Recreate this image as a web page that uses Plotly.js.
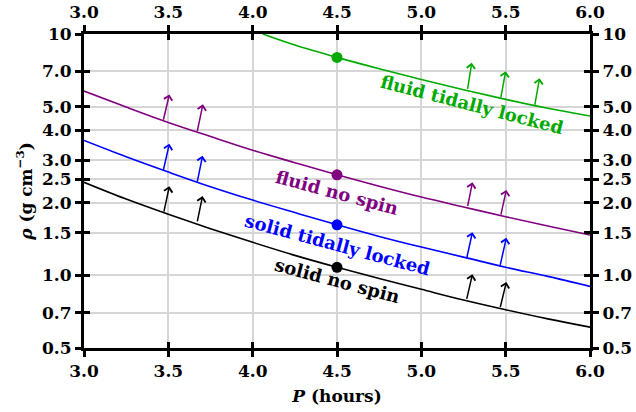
<!DOCTYPE html>
<html>
<head>
<meta charset="utf-8">
<script src="https://cdn.plot.ly/plotly-3.0.1.min.js"></script>
<style>html,body{margin:0;padding:0;background:#fff;}#chart{width:636px;height:412px;}</style>
</head>
<body>
<div id="chart"></div>
<script>
// Period grid (hours)
var P = [3.0, 3.25, 3.5, 3.75, 4.0, 4.25, 4.5, 4.75, 5.0, 5.25, 5.5, 5.75, 6.0];
var P_green = [4.06, 4.25, 4.5, 4.75, 5.0, 5.25, 5.5, 5.75, 6.0];
// Density curves (g cm^-3)
var rho_solid_nospin  = [2.43, 2.07, 1.79, 1.56, 1.37, 1.21, 1.08, 0.97, 0.875, 0.79, 0.72, 0.66, 0.61];
var rho_solid_locked  = [3.62, 3.10, 2.68, 2.33, 2.05, 1.82, 1.62, 1.45, 1.31, 1.19, 1.08, 0.99, 0.90];
var rho_fluid_nospin  = [5.80, 4.98, 4.30, 3.76, 3.30, 2.93, 2.61, 2.34, 2.11, 1.92, 1.75, 1.60, 1.47];
var rho_fluid_locked  = [10.0, 9.0, 8.0, 7.18, 6.48, 5.88, 5.36, 4.92, 4.57];
// Marked points at P = 4.5
var dotP = [4.5, 4.5, 4.5, 4.5];
var dotRho = [1.08, 1.62, 2.61, 8.0];
// Arrows: base (on curve) and tip
var arrowBaseP   = [3.472, 3.670, 5.267, 5.466,  3.469, 3.670, 5.267, 5.466,  3.469, 3.670, 5.273, 5.470,  5.273, 5.470, 5.671];
var arrowBaseRho = [1.81, 1.65, 0.788, 0.728,  2.70, 2.41, 1.16, 1.09,  4.35, 3.90, 1.91, 1.76,  5.84, 5.39, 5.01];
var arrowTipP    = [3.506, 3.703, 5.303, 5.504,  3.506, 3.703, 5.303, 5.504,  3.506, 3.705, 5.303, 5.504,  5.299, 5.500, 5.701];
var arrowTipRho  = [2.34, 2.13, 1.01, 0.938,  3.51, 3.13, 1.51, 1.43,  5.62, 5.11, 2.43, 2.26,  7.60, 7.01, 6.56];
var arrowSeries  = [0,0,0,0, 1,1,1,1, 2,2,2,2, 3,3,3];
// Labels
var seriesNames  = ["solid no spin", "solid tidally locked", "fluid no spin", "fluid tidally locked"];
var colors = ["#000000", "#0000ff", "#800080", "#00aa00"];
var labelP   = [4.50, 4.50, 4.50, 5.30];
var labelRho = [0.955, 1.34, 2.20, 5.10];
var labelAngle = [15, 15, 15, 14.5];
// Ticks
var xTicks = [3.0, 3.5, 4.0, 4.5, 5.0, 5.5, 6.0];
var xTickText = ["3.0", "3.5", "4.0", "4.5", "5.0", "5.5", "6.0"];
var yTicks = [0.5, 0.7, 1.0, 1.5, 2.0, 2.5, 3.0, 4.0, 5.0, 7.0, 10];
var yTickText = ["0.5", "0.7", "1.0", "1.5", "2.0", "2.5", "3.0", "4.0", "5.0", "7.0", "10"];

var FONT = "DejaVu Serif";
var curves = [
  [P, rho_solid_nospin],
  [P, rho_solid_locked],
  [P, rho_fluid_nospin],
  [P_green, rho_fluid_locked]
];
var data = [];
curves.forEach(function (c, i) {
  data.push({x: c[0], y: c[1], mode: "lines", type: "scatter", line: {color: colors[i], width: 1.6, shape: "spline"}, hoverinfo: "skip", showlegend: false});
});
data.push({x: dotP, y: dotRho, mode: "markers", type: "scatter", marker: {color: colors, size: 11}, hoverinfo: "skip", showlegend: false});
// dummy traces for overlay axes
data.push({x: [4.5], y: [1], xaxis: "x2", yaxis: "y2", mode: "markers", marker: {opacity: 0}, hoverinfo: "skip", showlegend: false});
data.push({x: [4.5], y: [1], xaxis: "x3", yaxis: "y3", mode: "markers", marker: {opacity: 0}, hoverinfo: "skip", showlegend: false});

var annotations = [];
for (var i = 0; i < arrowBaseP.length; i++) {
  annotations.push({
    x: arrowTipP[i], y: Math.log10(arrowTipRho[i]), xref: "x", yref: "y",
    ax: arrowBaseP[i], ay: Math.log10(arrowBaseRho[i]), axref: "x", ayref: "y",
    text: "", showarrow: true, arrowhead: 4, arrowsize: 1.1, arrowwidth: 1.5,
    arrowcolor: colors[arrowSeries[i]], standoff: 0, startstandoff: 0
  });
}
for (var j = 0; j < seriesNames.length; j++) {
  annotations.push({
    x: labelP[j], y: Math.log10(labelRho[j]), xref: "x", yref: "y",
    text: seriesNames[j], showarrow: false, textangle: labelAngle[j],
    xanchor: "center", yanchor: "middle",
    font: {family: FONT, size: 18, weight: "bold", color: colors[j]}
  });
}

var tickFont = {family: FONT, size: 17, weight: "bold", color: "#000"};
var common = {range: [3, 6], tickvals: xTicks, ticktext: xTickText, zeroline: false, linecolor: "#000", linewidth: 3, tickcolor: "#000", tickwidth: 3, ticklen: 6, tickfont: tickFont};
var ycommon = {type: "log", range: [Math.log10(0.5), 1], tickvals: yTicks, ticktext: yTickText, zeroline: false, linecolor: "#000", linewidth: 3, tickcolor: "#000", tickwidth: 3, ticklen: 6, tickfont: tickFont};

var layout = {
  width: 636, height: 412,
  margin: {l: 84, r: 46, t: 34, b: 64},
  paper_bgcolor: "#fff", plot_bgcolor: "#fff",
  showlegend: false,
  xaxis: Object.assign({}, common, {side: "bottom", ticks: "outside", showline: true, showgrid: true, gridcolor: "#d6d6d6", gridwidth: 2,
    title: {text: "<i>P</i> (hours)", font: {family: FONT, size: 17, weight: "bold", color: "#000"}, standoff: 10}}),
  xaxis2: Object.assign({}, common, {side: "top", overlaying: "x", anchor: "y2", ticks: "outside", showline: true, showgrid: false}),
  xaxis3: Object.assign({}, common, {overlaying: "x", anchor: "y3", ticks: "inside", mirror: "ticks", showline: true, showgrid: false, showticklabels: false}),
  yaxis: Object.assign({}, ycommon, {side: "left", ticks: "outside", showline: true, showgrid: true, gridcolor: "#d6d6d6", gridwidth: 2,
    title: {text: "<i>ρ</i> (g cm<sup>−3</sup>)", font: {family: FONT, size: 17, weight: "bold", color: "#000"}, standoff: 6}}),
  yaxis2: Object.assign({}, ycommon, {side: "right", overlaying: "y", anchor: "x2", ticks: "outside", showline: true, showgrid: false}),
  yaxis3: Object.assign({}, ycommon, {overlaying: "y", anchor: "x3", ticks: "inside", mirror: "ticks", showline: true, showgrid: false, showticklabels: false}),
  annotations: annotations
};

Plotly.newPlot("chart", data, layout, {staticPlot: true, displayModeBar: false});
</script>
</body>
</html>
